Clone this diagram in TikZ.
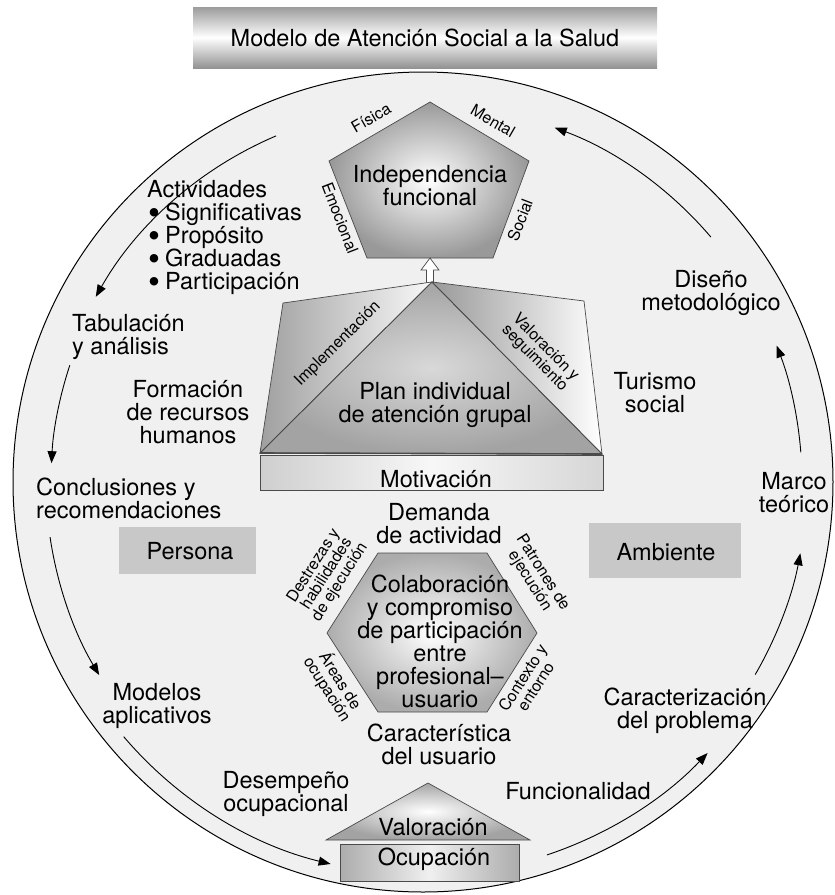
\documentclass[tikz,border=0pt]{standalone}
\usepackage{fontspec}
\setmainfont{TeX Gyre Heros}
\usetikzlibrary{arrows.meta}
\definecolor{discfill}{HTML}{F0F0F0}
\definecolor{edgegray}{HTML}{4A4A4A}
\definecolor{boxgray}{HTML}{C8C8C8}
\newcommand{\bigdot}{\hspace*{1pt}\raisebox{-0.17em}{\scalebox{1.45}{\textbullet}}\hspace{5pt}}

\begin{document}
\begin{tikzpicture}[x=1pt,y=1pt,
  big/.style={font=\fontsize{23.5}{23}\selectfont, inner sep=0pt, align=center},
  small/.style={font=\fontsize{16}{15.5}\selectfont, inner sep=0pt, align=center},
  cyc/.style={line width=0.9pt, -{Triangle[length=12pt,width=9pt]}},
  panel/.style={draw=edgegray, line width=0.7pt},
  tag/.style={fill=boxgray, draw=none},
]
\useasboundingbox (0,0) rectangle (835,-895);

% outer disc
\coordinate (C) at (423,-482);
\fill[discfill] (C) circle[radius=410];
\draw[line width=1pt] (C) circle[radius=410];

% title banner
\shade[top color=gray!78, bottom color=gray!85, middle color=white]
  (193,-7) rectangle (657,-68);
\node[big] (title) at (425,-38) {Modelo de Atención Social a la Salud};

% cycle of arrows inside the disc
\path (C) ++(113:376)   coordinate (a1);
\path (C) ++(161.7:372) coordinate (a2);
\path (C) ++(188.4:377) coordinate (a3);
\path (C) ++(220.4:393) coordinate (a4);
\path (C) ++(288.4:393) coordinate (a5);
\path (C) ++(329.9:384) coordinate (a6);
\path (C) ++(4.5:379)   coordinate (a7);
\path (C) ++(40.4:378)  coordinate (a8);
\draw[cyc] (a1) arc[start angle=113,   end angle=150.5, radius=376];
\draw[cyc] (a2) arc[start angle=161.7, end angle=177.1, radius=372];
\draw[cyc] (a3) arc[start angle=188.4, end angle=210.8, radius=377];
\draw[cyc] (a4) arc[start angle=220.4, end angle=256.4, radius=393];
\draw[cyc] (a5) arc[start angle=288.4, end angle=316.4, radius=393];
\draw[cyc] (a6) arc[start angle=329.9, end angle=349.3, radius=384];
\draw[cyc] (a7) arc[start angle=4.5,   end angle=21.1,  radius=379];
\draw[cyc] (a8) arc[start angle=40.4,  end angle=69.6,  radius=378];

% pentagon: functional independence
\coordinate (p1) at (430,-102);
\coordinate (p2) at (529,-161);
\coordinate (p3) at (493,-258);
\coordinate (p4) at (367,-258);
\coordinate (p5) at (329,-161);
\shade[inner color=white, outer color=gray!80] (p1)--(p2)--(p3)--(p4)--(p5)--cycle;
\draw[panel] (p1)--(p2)--(p3)--(p4)--(p5)--cycle;
\node[big] (indep) at (430,-186) {Independencia\\funcional};
\node[small, rotate=30]  (fisica)    at (371,-118) {Física};
\node[small, rotate=-30] (mental)    at (493,-121) {Mental};
\node[small, rotate=-69] (emocional) at (340,-218) {Emocional};
\node[small, rotate=69]  (social)    at (520,-220) {Social};

% hollow arrow from the roof up to the pentagon
\draw[edgegray, fill=white, line width=0.7pt]
  (426.5,-283) -- (426.5,-270) -- (421,-270) -- (430,-258) -- (439,-270)
  -- (433.5,-270) -- (433.5,-283) -- cycle;

% roof: plan of care
\coordinate (r0) at (432,-282);
\coordinate (rl) at (283,-303);
\coordinate (rr) at (584,-301);
\coordinate (bl) at (260,-453);
\coordinate (br) at (602,-454);
\shade[left color=gray!75, right color=gray!5] (r0)--(rl)--(bl)--cycle;
\shade[left color=gray!80, right color=white] (r0)--(rr)--(br)--cycle;
\shade[inner color=gray!30, outer color=gray!72] (r0)--(bl)--(br)--cycle;
\draw[panel] (r0)--(rl)--(bl)--cycle;
\draw[panel] (r0)--(rr)--(br)--cycle;
\draw[panel] (r0)--(bl)--(br)--cycle;
\node[small, rotate=44.7] (impl) at (338,-344) {Implementación};
\node[small, rotate=-45.3] (valseg) at (540,-353) {Valoración y\\seguimiento};
\node[big] (plan) at (435,-405) {Plan individual\\de atención grupal};

% motivation base
\shade[left color=gray!38, right color=gray!32, middle color=gray!6]
  (260,-455) rectangle (603,-490);
\draw[panel] (260,-455) rectangle (603,-490);
\draw[edgegray, line width=1.6pt] (bl) -- (br);
\node[big] (motiv) at (436,-479) {Motivación};

% hexagon: collaboration
\coordinate (h1) at (327,-633);
\coordinate (h2) at (378,-553);
\coordinate (h3) at (487,-553);
\coordinate (h4) at (537,-633);
\coordinate (h5) at (487,-712);
\coordinate (h6) at (378,-712);
\shade[inner color=white, outer color=gray!65] (h1)--(h2)--(h3)--(h4)--(h5)--(h6)--cycle;
\draw[panel] (h1)--(h2)--(h3)--(h4)--(h5)--(h6)--cycle;
\node[big] (colab) at (440,-641)
  {Colaboración\\y compromiso\\de participación\\entre\\profesional--\\usuario};
\node[big] (demanda) at (439,-524) {Demanda\\de actividad};
\node[big] (caract)  at (439,-744) {Característica\\del usuario};
\node[small, rotate=57.5]  (destrezas) at (327,-574) {Destrezas y\\habilidades\\de ejecución};
\node[small, rotate=-57.5] (patrones)  at (536,-577) {Patrones de\\ejecución};
\node[small, rotate=-57.5] (areas)     at (334,-685) {Áreas de\\ocupación};
\node[small, rotate=57.5]  (contexto)  at (529,-682) {Contexto y\\entorno};

% assessment roof and occupation base
\coordinate (t0) at (428,-783);
\coordinate (t1) at (326,-840);
\coordinate (t2) at (530,-840);
\shade[inner color=white, outer color=gray!72] (t0)--(t1)--(t2)--cycle;
\draw[panel] (t0)--(t1)--(t2)--cycle;
\node[big] (valoracion) at (433,-827) {Valoración};
\shade[left color=gray!65, right color=gray!65, middle color=gray!12]
  (340,-844) rectangle (519,-881);
\draw[panel] (340,-844) rectangle (519,-881);
\node[big] (ocupacion) at (434,-859) {Ocupación};

% person and environment tags
\fill[tag] (119,-527) rectangle (256,-574);
\node[big] (persona) at (190,-551) {Persona};
\fill[tag] (589,-523) rectangle (741,-578);
\node[big] (ambiente) at (666,-552) {Ambiente};

% labels around the cycle
\node[big, align=left, anchor=north west] (activ) at (147,-180)
  {Actividades\\
   \bigdot Significativas\\
   \bigdot Propósito\\
   \bigdot Graduadas\\
   \bigdot Participación};
\node[big, align=left, anchor=west] (tabul) at (72,-337) {Tabulación\\y análisis};
\node[big] (formacion) at (188,-412) {Formación\\de recursos\\humanos};
\node[big, align=left, anchor=west] (concl) at (36,-498) {Conclusiones y\\recomendaciones};
\node[big] (modelos) at (157,-706) {Modelos\\aplicativos};
\node[big] (desemp) at (286,-794) {Desempeño\\ocupacional};
\node[big] (funcion) at (578,-791) {Funcionalidad};
\node[big] (caracteriz) at (685,-711) {Caracterización\\del problema};
\node[big] (marco) at (794,-493) {Marco\\teórico};
\node[big] (turismo) at (655,-393) {Turismo\\social};
\node[big] (diseno) at (711,-293) {Diseño\\metodológico};
\end{tikzpicture}
\end{document}
